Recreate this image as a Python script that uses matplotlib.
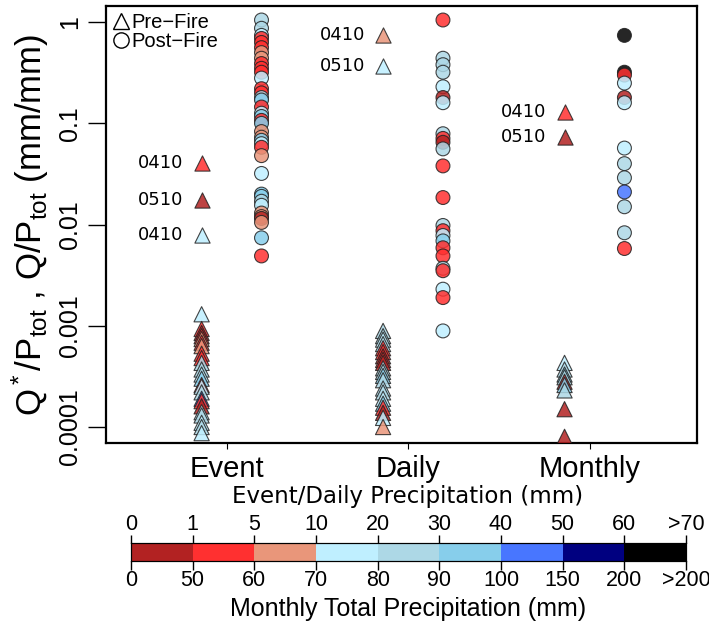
import numpy as np
import matplotlib.pyplot as plt
from matplotlib.lines import Line2D

plt.rcParams['font.family'] = ['Liberation Sans', 'DejaVu Sans']
plt.rcParams['mathtext.fontset'] = 'custom'
plt.rcParams['mathtext.rm'] = 'Liberation Sans'
plt.rcParams['mathtext.it'] = 'Liberation Sans:italic'

# precipitation classes, shared by the event/daily and monthly scales
palette = ['#B22222', '#FF3030', '#E9967A', '#BFEFFF', '#ADD8E6',
           '#87CEEB', '#4876FF', '#000080', '#000000']
event_daily_bins = ['0', '1', '5', '10', '20', '30', '40', '50', '60', '>70']
monthly_bins = ['0', '50', '60', '70', '80', '90', '100', '150', '200', '>200']
scales = ['Event', 'Daily', 'Monthly']

# runoff ratios and the precipitation class of each record
event_pre = [0.0013, 0.00093, 0.00085, 0.00079, 0.00074, 0.00068, 0.00063,
             0.00053, 0.00048, 0.00043, 0.00037, 0.00033, 0.0003, 0.00026,
             0.00025, 0.00022, 0.00019, 0.00018, 0.00016, 0.00014, 0.00013,
             0.00011, 0.0001, 0.000087]
event_pre_cls = [3, 1, 0, 1, 2, 1, 2, 1, 1, 4, 4, 3, 5, 1, 3, 4, 6, 1, 0, 3,
                 4, 3, 4, 3]

event_post = [1.05, 0.87, 0.74, 0.69, 0.63, 0.56, 0.50, 0.44, 0.39, 0.35,
              0.32, 0.28, 0.22, 0.20, 0.18, 0.17, 0.145, 0.126, 0.117, 0.107,
              0.1, 0.083, 0.073, 0.068, 0.063, 0.058, 0.048, 0.032, 0.020,
              0.019, 0.017, 0.0155, 0.013, 0.012, 0.0115, 0.0105, 0.0074,
              0.0049]
event_post_cls = [4, 4, 3, 1, 1, 1, 2, 2, 1, 1, 1, 3, 1, 1, 4, 5, 1, 3, 5, 1,
                  5, 2, 2, 5, 3, 1, 2, 3, 5, 5, 4, 3, 2, 2, 0, 2, 5, 1]

daily_pre = [0.00089, 0.00079, 0.00073, 0.00066, 0.0006, 0.00055, 0.0005,
             0.00046, 0.00043, 0.00038, 0.00035, 0.00032, 0.00029, 0.00024,
             0.00022, 0.00019, 0.00017, 0.000155, 0.000138, 0.000123, 0.0001]
daily_pre_cls = [4, 4, 3, 4, 1, 1, 0, 1, 0, 4, 4, 5, 4, 3, 4, 3, 5, 1, 0, 3, 2]

daily_post = [1.05, 0.44, 0.38, 0.32, 0.23, 0.18, 0.16, 0.079, 0.071, 0.065,
              0.056, 0.038, 0.0185, 0.0098, 0.0087, 0.0078, 0.0069, 0.0059,
              0.0049, 0.0037, 0.0035, 0.0023, 0.0019, 0.00089]
daily_post_cls = [1, 4, 4, 4, 3, 0, 3, 4, 1, 0, 4, 1, 1, 4, 1, 3, 5, 1, 1, 4,
                  1, 3, 1, 3]

monthly_pre = [0.00043, 0.00037, 0.00033, 0.00031, 0.00028, 0.00026,
               0.00023, 0.00015, 0.00008]
monthly_pre_cls = [3, 4, 5, 4, 0, 5, 4, 0, 0]

monthly_post = [0.74, 0.32, 0.30, 0.25, 0.18, 0.16, 0.057, 0.040, 0.029,
                0.021, 0.015, 0.0083, 0.0058]
monthly_post_cls = [8, 8, 1, 3, 0, 3, 3, 4, 4, 6, 4, 4, 1]

# labelled storms, drawn in the pre-fire column of their scale
storm_scale = [0, 0, 0, 1, 1, 2, 2]
storm_val = [0.0405, 0.0175, 0.0079, 0.74, 0.37, 0.129, 0.074]
storm_cls = [1, 0, 3, 2, 3, 1, 0]
storm_name = ['0410', '0510', '0410', '0410', '0510', '0410', '0510']

pre_shift, post_shift = -0.14, 0.19

fig = plt.figure(figsize=(7.09, 6.25), dpi=100)
ax = fig.add_axes([0.1495, 0.2912, 0.8336, 0.699])

groups = [
    (event_pre, event_pre_cls, 1 + pre_shift, '^', 120),
    (event_post, event_post_cls, 1 + post_shift, 'o', 100),
    (daily_pre, daily_pre_cls, 2 + pre_shift, '^', 120),
    (daily_post, daily_post_cls, 2 + post_shift, 'o', 100),
    (monthly_pre, monthly_pre_cls, 3 + pre_shift, '^', 120),
    (monthly_post, monthly_post_cls, 3 + post_shift, 'o', 100),
]
for vals, cls, xpos, mk, size in groups:
    ax.scatter(np.full(len(vals), xpos), vals, c=[palette[k] for k in cls],
               marker=mk, s=size, edgecolors='#222222', linewidths=0.8,
               alpha=0.85, zorder=3)

for sc, v, k, name in zip(storm_scale, storm_val, storm_cls, storm_name):
    xpos = sc + 1 + pre_shift
    ax.scatter([xpos], [v], c=palette[k], marker='^', s=120,
               edgecolors='#222222', linewidths=0.8, alpha=0.85, zorder=3)
    ax.annotate(name, (xpos, v), xytext=(-13, 0), textcoords='offset points',
                ha='right', va='center', fontsize=13, family='DejaVu Sans')

ax.set_yscale('log')
ax.set_ylim(6.95e-5, 1.44)
ax.set_xlim(0.333, 3.59)
ax.set_yticks([1e-4, 1e-3, 1e-2, 1e-1, 1])
ax.set_yticklabels(['0.0001', '0.001', '0.01', '0.1', '1'])
ax.minorticks_off()
ax.tick_params(axis='y', length=13, width=1, labelsize=18, pad=4,
               labelrotation=90)
for lab in ax.get_yticklabels():
    lab.set_va('center')
ax.set_xticks([1, 2, 3])
ax.set_xticklabels(scales)
ax.tick_params(axis='x', length=4.5, width=0.8, labelsize=21, pad=4)
for sp in ax.spines.values():
    sp.set_linewidth(1.6)

ax.set_ylabel(r'Q$^*$/P$_{\mathrm{tot}}$ , Q/P$_{\mathrm{tot}}$ (mm/mm)',
              fontsize=25, labelpad=5)

handles = [Line2D([], [], marker='^', ls='none', mfc='none', mec='k',
                  ms=12, mew=1.0),
           Line2D([], [], marker='o', ls='none', mfc='none', mec='k',
                  ms=11, mew=1.0)]
ax.legend(handles, ['Pre\u2212Fire', 'Post\u2212Fire'], loc='upper left',
          frameon=False, fontsize=14.5, handlelength=0.8, handletextpad=0.1,
          borderaxespad=0.15, borderpad=0.2, labelspacing=0.0)

# categorical colour key
cax = fig.add_axes([131 / 709, 1 - 561 / 625, 555 / 709, 18 / 625])
cax.bar(np.arange(len(palette)), np.ones(len(palette)), width=1,
        align='edge', color=palette, edgecolor='none')
cax.set_xlim(0, len(palette))
cax.set_ylim(0, 1)
cax.set_yticks([])
cax.set_xticks(np.arange(len(monthly_bins)))
cax.set_xticklabels(monthly_bins)
cax.tick_params(axis='x', length=6.5, width=1, labelsize=15.5, pad=0)
for sp in cax.spines.values():
    sp.set_linewidth(0.8)
top = cax.twiny()
top.set_xlim(cax.get_xlim())
top.set_xticks(np.arange(len(event_daily_bins)))
top.set_xticklabels(event_daily_bins)
top.tick_params(axis='x', length=6, width=1, labelsize=15.5, pad=0)

fig.text(408 / 709, 1 - 497 / 625, 'Event/Daily Precipitation (mm)',
         ha='center', va='center', fontsize=16.5, family='DejaVu Sans')
fig.text(408 / 709, 1 - 609 / 625, 'Monthly Total Precipitation (mm)',
         ha='center', va='center', fontsize=18)

fig.savefig('out.png', dpi=100)
plt.close(fig)
